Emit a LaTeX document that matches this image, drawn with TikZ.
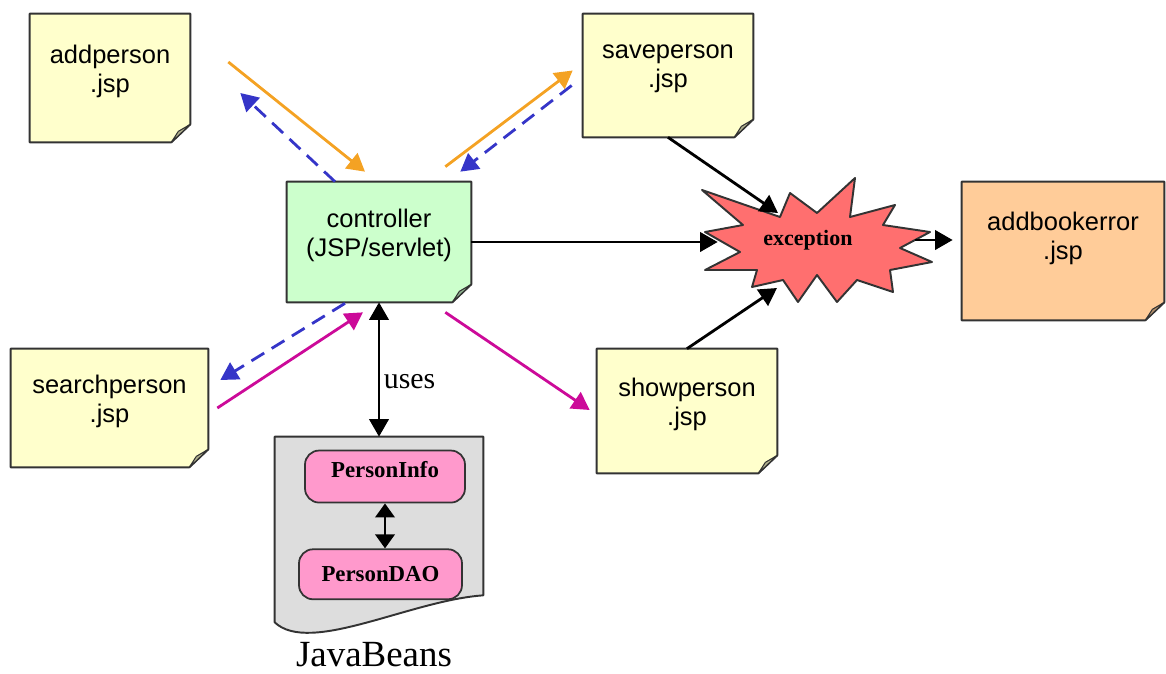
\documentclass[tikz,border=0pt]{standalone}
\usepackage{fontspec}
\setmainfont{Liberation Serif}
\setsansfont{Liberation Sans}
\usetikzlibrary{shapes.geometric, arrows.meta, positioning, backgrounds}
\definecolor{noteyellow}{HTML}{FFFFCC}
\definecolor{ctrlgreen}{HTML}{CCFFCC}
\definecolor{errorange}{HTML}{FFCC99}
\definecolor{burstred}{HTML}{FF6F6F}
\definecolor{beanpink}{HTML}{FF99CC}
\definecolor{docgray}{HTML}{DDDDDD}
\definecolor{reqorange}{HTML}{F4A223}
\definecolor{fwdblue}{HTML}{3535C8}
\definecolor{srchmagenta}{HTML}{CC0A99}
\definecolor{edgegray}{HTML}{333333}

\begin{document}
\begin{tikzpicture}[
    x=0.02cm, y=-0.02cm,
    jsp/.style={rectangle, inner sep=0pt, align=center, text depth=11pt, font=\sffamily\fontsize{14.5}{16.5}\selectfont},
    pageline/.style={draw=edgegray, line width=1.1pt, line join=round},
    bean/.style={rectangle, rounded corners=8pt, draw=edgegray, line width=1pt, fill=beanpink, inner sep=0pt, font=\bfseries\fontsize{13}{15}\selectfont},
    arr/.style={-{Triangle[length=10pt, width=11pt]}, line width=1.6pt},
    fwd/.style={arr, fwdblue, dash pattern=on 8.5pt off 5pt},
    req/.style={arr, reqorange},
    srch/.style={arr, srchmagenta},
]
    \useasboundingbox (0,0) rectangle (1166,673);

    \node[jsp, minimum width=3.2cm, minimum height=2.56cm] (addperson) at (110,78) {addperson\\.jsp};
    \node[jsp, minimum width=3.4cm, minimum height=2.46cm] (saveperson) at (668,75.5) {saveperson\\.jsp};
    \node[jsp, minimum width=3.68cm, minimum height=2.4cm] (controller) at (379,242) {controller\\(JSP/servlet)};
    \node[jsp, minimum width=3.94cm, minimum height=2.36cm] (searchperson) at (109.5,408) {searchperson\\.jsp};
    \node[jsp, minimum width=3.6cm, minimum height=2.48cm] (showperson) at (687,411) {showperson\\.jsp};
    \node[jsp, minimum width=4.04cm, minimum height=2.76cm, text depth=17pt] (addbookerror) at (1063,251) {addbookerror\\.jsp};
    \node[font=\bfseries\fontsize{12.5}{14}\selectfont, minimum width=3.6cm, inner sep=0pt] (exception) at (808,240) {exception};

    \node[minimum width=4.16cm, minimum height=3.92cm, inner sep=0pt] (javabeans) at (379,535) {};
    \node[bean, minimum width=3.2cm, minimum height=1.04cm, text depth=8pt, below=0.26cm of javabeans.north, xshift=0.12cm] (personinfo) {PersonInfo};
    \node[bean, minimum width=3.26cm, minimum height=1cm, below=0.9cm of personinfo, xshift=-0.09cm] (persondao) {PersonDAO};
    \node[below=0.18cm of javabeans, xshift=-0.1cm, inner sep=0pt, font=\fontsize{21}{24}\selectfont] (beanslabel) {JavaBeans};

    % pages, burst and bean document
    \begin{scope}[on background layer]
        \foreach \n/\c in {addperson/noteyellow, saveperson/noteyellow, controller/ctrlgreen,
                           searchperson/noteyellow, showperson/noteyellow, addbookerror/errorange} {
            \draw[pageline, fill=\c] (\n.north west) -- (\n.north east) -- ([shift={(0,-18)}]\n.south east)
                -- ([shift={(-19,0)}]\n.south east) -- (\n.south west) -- cycle;
            \draw[pageline, line width=0.6pt, fill=\c!70!black] ([shift={(0,-18)}]\n.south east)
                -- ([shift={(-12,-11)}]\n.south east) -- ([shift={(-19,0)}]\n.south east) -- cycle;
        }
        \draw[pageline, fill=docgray] (javabeans.north west) -- (javabeans.north east)
            -- ([shift={(0,-38)}]javabeans.south east)
            .. controls ([shift={(-73,-33)}]javabeans.south east) and ([shift={(35,22)}]javabeans.south west)
            .. ([shift={(0,-11)}]javabeans.south west) -- cycle;
        \draw[pageline, fill=burstred, shift={(812,248)}] (-110,-58) -- (-32,-31) -- (-22,-55) -- (5,-35)
            -- (43,-70) -- (38,-31) -- (83,-43) -- (71,-23) -- (118,-16) -- (88,0) -- (120,14)
            -- (78,22) -- (81,44) -- (45,32) -- (25,54) -- (5,27) -- (-14,54) -- (-29,32)
            -- (-60,39) -- (-55,22) -- (-107,22) -- (-72,4) -- (-107,-16) -- (-69,-23) -- cycle;
    \end{scope}

    \draw[req] ([shift={(38,-16)}]addperson.east) -- ([shift={(-14,-10)}]controller.north);
    \draw[fwd] ([shift={(-44,0)}]controller.north) -- ([shift={(50,15)}]addperson.east);
    \draw[req] ([shift={(-26,-15)}]controller.north east) -- ([shift={(-10,-5)}]saveperson.west);
    \draw[fwd] ([shift={(-11,10)}]saveperson.west) -- ([shift={(-11,-10)}]controller.north east);
    \draw[srch] ([shift={(9,0)}]searchperson.east) -- ([shift={(-16,10)}]controller.south);
    \draw[fwd] ([shift={(-34,1)}]controller.south) -- ([shift={(12,-28)}]searchperson.east);
    \draw[srch] ([shift={(-26,10)}]controller.south east) -- ([shift={(-7,-1)}]showperson.west);
    \draw[arr, {Triangle[length=10pt, width=11pt]}-{Triangle[length=10pt, width=11pt]}] (controller.south)
        -- node[right, pos=0.59, inner sep=2pt, font=\fontsize{17}{20}\selectfont] {uses} (javabeans.north);
    \draw[arr, {Triangle[length=8pt, width=11pt]}-{Triangle[length=8pt, width=11pt]}] (personinfo.south) -- (personinfo.south |- persondao.north);

    \draw[arr] (controller.east) -- (controller.east -| exception.west);
    \draw[arr] (saveperson.south) -- ([shift={(-30,-27)}]exception.center);
    \draw[arr] (showperson.north) -- ([shift={(-31,48)}]exception.center);
    \draw[arr, shorten <=0.34cm, shorten >=0.18cm] (exception.east) -- (exception.east -| addbookerror.west);
\end{tikzpicture}
\end{document}
